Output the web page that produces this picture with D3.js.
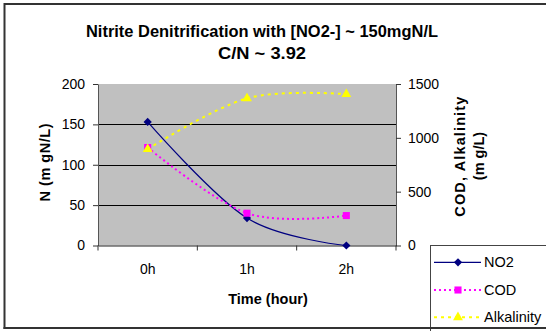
<!DOCTYPE html>
<html>
<head>
<meta charset="utf-8">
<script src="https://cdn.jsdelivr.net/npm/d3@7"></script>
<style>
  html, body { margin: 0; padding: 0; background: #fff; }
  svg { display: block; font-family: "Liberation Sans", Arial, sans-serif; }
</style>
</head>
<body>
<svg id="chart" width="546" height="331"></svg>
<script>
// Sampling times and measured concentrations
const categories = ["0h", "1h", "2h"];
const no2 = [153, 34, 0];              // mgN/L, left axis
const cod = [910, 300, 278];           // mg/L, right axis
const alkalinity = [895, 1367, 1405];  // mg/L, right axis
const leftTicks = [0, 50, 100, 150, 200];
const rightTicks = [0, 500, 1000, 1500];
const seriesNames = ["NO2", "COD", "Alkalinity"];

const svg = d3.select("#chart");

const plot = { left: 98, right: 396, top: 84, bottom: 245.5 };

const x = d3.scaleBand().domain(categories).range([plot.left, plot.right]).padding(0);
const cx = c => x(c) + x.bandwidth() / 2;
const yL = d3.scaleLinear().domain([0, 200]).range([plot.bottom, plot.top]);
const yR = d3.scaleLinear().domain([0, 1500]).range([plot.bottom, plot.top]);

// Outer chart border
svg.append("rect")
  .attr("x", 4.5).attr("y", 4).attr("width", 600).attr("height", 324)
  .attr("fill", "#fff").attr("stroke", "#333").attr("stroke-width", 2);

// Title
svg.append("text").attr("x", 262).attr("y", 37.3).attr("text-anchor", "middle")
  .attr("font-size", 17.2).attr("font-weight", "bold")
  .attr("textLength", 352).attr("lengthAdjust", "spacingAndGlyphs")
  .text("Nitrite Denitrification with [NO2-] ~ 150mgN/L");
svg.append("text").attr("x", 262).attr("y", 59.3).attr("text-anchor", "middle")
  .attr("font-size", 17.2).attr("font-weight", "bold")
  .attr("textLength", 88).attr("lengthAdjust", "spacingAndGlyphs")
  .text("C/N ~ 3.92");

// Plot area
svg.append("rect")
  .attr("x", plot.left).attr("y", plot.top)
  .attr("width", plot.right - plot.left).attr("height", plot.bottom - plot.top)
  .attr("fill", "#c0c0c0");

// Horizontal gridlines
svg.append("g").selectAll("line")
  .data(leftTicks.filter(v => v > 0 && v < 200))
  .join("line")
  .attr("x1", plot.left).attr("x2", plot.right)
  .attr("y1", d => Math.round(yL(d)) + 0.5).attr("y2", d => Math.round(yL(d)) + 0.5)
  .attr("stroke", "#000").attr("stroke-width", 1);

// Axes
const axisStyle = g => {
  g.selectAll("path.domain").attr("stroke", "#555");
  g.selectAll(".tick line").attr("stroke", "#333");
  g.selectAll(".tick text").attr("font-size", 14).attr("fill", "#000")
    .attr("font-family", "'Liberation Sans', Arial, sans-serif");
};

svg.append("g")
  .attr("transform", `translate(${plot.left},0)`)
  .call(d3.axisLeft(yL).tickValues(leftTicks).tickFormat(d3.format("d"))
    .tickSize(5).tickPadding(8).tickSizeOuter(0))
  .call(axisStyle);

svg.append("g")
  .attr("transform", `translate(${plot.right},0)`)
  .call(d3.axisRight(yR).tickValues(rightTicks).tickFormat(d3.format("d"))
    .tickSize(5).tickPadding(7).tickSizeOuter(0))
  .call(axisStyle);

const xAxis = svg.append("g")
  .attr("transform", `translate(0,${plot.bottom})`)
  .call(d3.axisBottom(x).tickSize(0).tickPadding(19).tickSizeOuter(0))
  .call(axisStyle);
xAxis.select("path.domain").attr("stroke", "#222");
// Category separators sit between the labels
xAxis.selectAll("line.sep")
  .data(categories.map(c => x(c)).concat([plot.right]))
  .join("line").attr("class", "sep")
  .attr("x1", d => d).attr("x2", d => d)
  .attr("y1", 0).attr("y2", 5)
  .attr("stroke", "#333");

// Axis titles
svg.append("text").attr("x", 268).attr("y", 304).attr("text-anchor", "middle")
  .attr("font-size", 14.5).attr("font-weight", "bold")
  .text("Time (hour)");

svg.append("text")
  .attr("transform", "translate(50,162.5) rotate(-90)")
  .attr("text-anchor", "middle").attr("font-size", 14.5).attr("font-weight", "bold")
  .attr("textLength", 78).attr("lengthAdjust", "spacing")
  .text("N (m gN/L)");

svg.append("text")
  .attr("transform", "translate(465,156.7) rotate(-90)")
  .attr("text-anchor", "middle").attr("font-size", 14.5).attr("font-weight", "bold")
  .attr("textLength", 120).attr("lengthAdjust", "spacing")
  .text("COD, Alkalinity");
svg.append("text")
  .attr("transform", "translate(483.5,156) rotate(-90)")
  .attr("text-anchor", "middle").attr("font-size", 14.5).attr("font-weight", "bold")
  .text("(m g/L)");

// Series markers: a square turned 45° gives the diamond
const marker = (shape, size) => shape === "diamond"
  ? d3.symbol().type(d3.symbolSquare).size(size)()
  : d3.symbol().type(shape).size(size)();
const curve = d3.curveCatmullRom.alpha(0);
const series = [
  { name: seriesNames[0], values: no2, y: yL, color: "#000080", width: 1.2, dash: null, shape: "diamond", rot: 45, size: 34 },
  { name: seriesNames[1], values: cod, y: yR, color: "#ff00ff", width: 2, dash: "2 3", shape: d3.symbolSquare, rot: 0, size: 50 },
  { name: seriesNames[2], values: alkalinity, y: yR, color: "#ffff00", width: 2, dash: "3 4", shape: d3.symbolTriangle, rot: 0, size: 42 }
];

series.forEach(s => {
  const pts = categories.map((c, i) => [cx(c), s.y(s.values[i])]);
  svg.append("path")
    .attr("d", d3.line().curve(curve)(pts))
    .attr("fill", "none").attr("stroke", s.color)
    .attr("stroke-width", s.width)
    .attr("stroke-dasharray", s.dash);
  svg.append("g").selectAll("path")
    .data(pts).join("path")
    .attr("transform", d => `translate(${d[0]},${d[1]}) rotate(${s.rot})`)
    .attr("d", marker(s.shape, s.size))
    .attr("fill", s.color);
});

// Legend
const legend = svg.append("g");
legend.append("rect")
  .attr("x", 430.5).attr("y", 245.5).attr("width", 200).attr("height", 100)
  .attr("fill", "#fff").attr("stroke", "#444").attr("stroke-width", 1);
const legendY = [262.3, 290, 317.3];
series.forEach((s, i) => {
  const row = legend.append("g").attr("transform", `translate(0,${legendY[i]})`);
  row.append("line").attr("x1", 434).attr("x2", 481).attr("y1", 0).attr("y2", 0)
    .attr("stroke", s.color).attr("stroke-width", s.width).attr("stroke-dasharray", s.dash);
  row.append("path").attr("transform", `translate(458,0) rotate(${s.rot})`)
    .attr("d", marker(s.shape, s.size)).attr("fill", s.color);
  row.append("text").attr("x", 484).attr("y", 5).attr("font-size", 14.5).text(s.name);
});
// Redraw the outer border edge over the legend's lower edge
svg.append("line").attr("x1", 3.5).attr("x2", 546).attr("y1", 328).attr("y2", 328)
  .attr("stroke", "#333").attr("stroke-width", 2);
</script>
</body>
</html>
